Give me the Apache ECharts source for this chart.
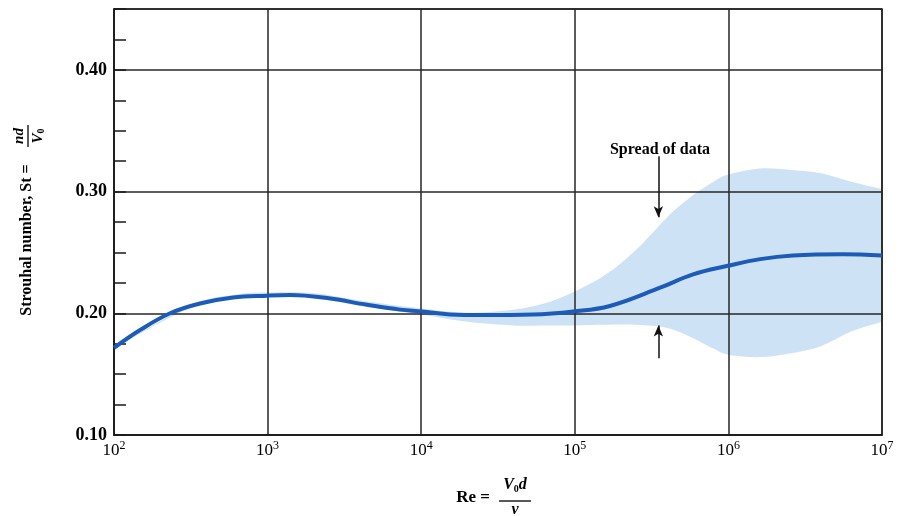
<!DOCTYPE html>
<html>
<head>
<meta charset="utf-8">
<style>
  html, body { margin: 0; padding: 0; background: #fff; }
  #chart { width: 901px; height: 516px; }
</style>
<script src="https://cdn.jsdelivr.net/npm/echarts@6/dist/echarts.min.js"></script>
</head>
<body>
<div id="chart"></div>
<script>
  // Strouhal number vs Reynolds number
  const reCurve = [100, 147, 232, 363, 596, 1000, 1400, 2440, 4440, 7280, 10100, 15400, 25100, 53300, 97700,
    169000, 359000, 589000, 993000, 1610000, 2630000, 5570000, 10000000];
  const stCurve = [0.1715, 0.186, 0.200, 0.208, 0.213, 0.2145, 0.215, 0.2125, 0.207, 0.203, 0.2015, 0.199, 0.1985,
    0.199, 0.2015, 0.206, 0.221, 0.232, 0.239, 0.2445, 0.2475, 0.2485, 0.2475];

  // spread of data (band)
  const reBand = [100, 320, 630, 1000, 2000, 4000, 10000, 20000, 40000, 63000, 100000, 160000, 250000, 400000,
    560000, 800000, 1000000, 1600000, 2500000, 4000000, 6300000, 10000000];
  const bandLow = [0.1715, 0.205, 0.2125, 0.2135, 0.2125, 0.206, 0.199, 0.193, 0.19, 0.19, 0.19, 0.1905, 0.1905,
    0.188, 0.181, 0.171, 0.166, 0.164, 0.167, 0.173, 0.185, 0.193];
  const bandHigh = [0.1715, 0.207, 0.2155, 0.217, 0.2165, 0.2105, 0.204, 0.2005, 0.203, 0.208, 0.218, 0.232, 0.252,
    0.279, 0.295, 0.308, 0.314, 0.319, 0.318, 0.315, 0.308, 0.302];

  // arrows for the "Spread of data" note
  const noteRe = 350000;
  const arrowTop = [0.329, 0.279];
  const arrowBottom = [0.163, 0.190];

  const serif = '"Liberation Serif", "Times New Roman", serif';
  const chart = echarts.init(document.getElementById('chart'));

  // Catmull-Rom through pixel points, as svg path segments
  function smoothPath(pts) {
    let d = '';
    for (let i = 0; i < pts.length - 1; i++) {
      const p0 = pts[Math.max(i - 1, 0)];
      const p1 = pts[i];
      const p2 = pts[i + 1];
      const p3 = pts[Math.min(i + 2, pts.length - 1)];
      const c1x = p1[0] + (p2[0] - p0[0]) / 6;
      const c1y = p1[1] + (p2[1] - p0[1]) / 6;
      const c2x = p2[0] - (p3[0] - p1[0]) / 6;
      const c2y = p2[1] - (p3[1] - p1[1]) / 6;
      d += ` C${c1x},${c1y} ${c2x},${c2y} ${p2[0]},${p2[1]}`;
    }
    return d;
  }

  function renderBand(params, api) {
    if (params.dataIndex !== 0) return null;
    const upper = reBand.map((re, i) => api.coord([re, bandHigh[i]]));
    const lower = reBand.map((re, i) => api.coord([re, bandLow[i]])).reverse();
    const d = `M${upper[0][0]},${upper[0][1]}` + smoothPath(upper) +
      ` L${lower[0][0]},${lower[0][1]}` + smoothPath(lower) + ' Z';
    return {
      type: 'path',
      shape: { pathData: d },
      style: { fill: '#cde2f5', stroke: null },
    };
  }

  const option = {
    animation: false,
    backgroundColor: '#fff',
    grid: {
      left: 114, right: 19, top: 9, bottom: 81,
      show: true, borderColor: '#1a1a1a', borderWidth: 1.5, backgroundColor: 'transparent',
    },
    xAxis: {
      type: 'log',
      logBase: 10,
      min: 100,
      max: 10000000,
      z: 3,
      axisLine: { show: true, lineStyle: { color: '#1a1a1a', width: 1.5 } },
      axisTick: { show: false },
      splitLine: { show: true, lineStyle: { color: '#262626', width: 1.5 } },
      minorTick: { show: false },
      axisLabel: {
        margin: 5,
        color: '#000',
        fontFamily: serif,
        formatter: (value) => `{b|10}{s|${Math.round(Math.log10(value))}}`,
        rich: {
          b: { fontFamily: serif, fontSize: 17, color: '#000' },
          s: { fontFamily: serif, fontSize: 12, color: '#000', verticalAlign: 'bottom', padding: [0, 0, 9, 0] },
        },
      },
    },
    yAxis: [
      {
        type: 'value',
        min: 0.1,
        max: 0.45,
        interval: 0.1,
        z: 3,
        axisLine: { show: true, lineStyle: { color: '#1a1a1a', width: 1.5 } },
        axisTick: { show: false },
        splitLine: { show: true, lineStyle: { color: '#262626', width: 1.5 } },
        axisLabel: {
          margin: 7,
          showMaxLabel: false,
          color: '#000',
          fontFamily: serif,
          fontWeight: 'bold',
          fontSize: 18,
          formatter: (v) => v.toFixed(2),
        },
      },
      {
        type: 'value',
        position: 'left',
        min: 0.1,
        max: 0.45,
        interval: 0.025,
        z: 3,
        axisLine: { show: false },
        axisTick: { show: true, inside: true, length: 12, lineStyle: { color: '#1a1a1a', width: 1.5 } },
        splitLine: { show: false },
        axisLabel: { show: false },
      },
    ],
    series: [
      {
        name: 'Spread of data',
        type: 'custom',
        z: -1,
        silent: true,
        renderItem: renderBand,
        encode: { x: 0, y: [1, 2] },
        data: reBand.map((re, i) => [re, bandLow[i], bandHigh[i]]),
      },
      {
        name: 'St',
        type: 'line',
        data: reCurve.map((re, i) => [re, stCurve[i]]),
        smooth: 0.4,
        symbol: 'none',
        z: 5,
        lineStyle: { color: '#1c5cb8', width: 4 },
        markLine: {
          silent: true,
          symbol: ['none', 'arrow'],
          symbolSize: [7, 11],
          label: { show: false },
          lineStyle: { color: '#111', width: 1.5, type: 'solid' },
          data: [
            [{ coord: [noteRe, arrowTop[0]] }, { coord: [noteRe, arrowTop[1]] }],
            [{ coord: [noteRe, arrowBottom[0]] }, { coord: [noteRe, arrowBottom[1]] }],
          ],
        },
      },
    ],
    graphic: [
      {
        type: 'text',
        x: 27, y: 240, rotation: Math.PI / 2, z: 100,
        style: {
          text: 'Strouhal number, St =',
          font: `bold 16px ${serif}`,
          fill: '#000',
          align: 'center',
          verticalAlign: 'middle',
        },
      },
      {
        type: 'text',
        x: 19, y: 136, rotation: Math.PI / 2, z: 100,
        style: {
          text: 'nd',
          font: `italic bold 15px ${serif}`,
          fill: '#000',
          align: 'center',
          verticalAlign: 'middle',
        },
      },
      {
        type: 'line', z: 100,
        shape: { x1: 28, y1: 125, x2: 28, y2: 147 },
        style: { stroke: '#000', lineWidth: 1.3 },
      },
      {
        type: 'text',
        x: 38, y: 136, rotation: Math.PI / 2, z: 100,
        style: {
          text: '{v|V}{s|0}',
          align: 'center',
          verticalAlign: 'middle',
          rich: {
            v: { font: `italic bold 15px ${serif}`, fill: '#000' },
            s: { font: `bold 10px ${serif}`, fill: '#000', verticalAlign: 'top', padding: [6, 0, 0, 0] },
          },
        },
      },
      {
        type: 'text',
        x: 490, y: 498, z: 100,
        style: {
          text: 'Re =',
          font: `bold 17px ${serif}`,
          fill: '#000',
          align: 'right',
          verticalAlign: 'middle',
        },
      },
      {
        type: 'text',
        x: 515, y: 485, z: 100,
        style: {
          text: '{v|V}{s|0}{v|d}',
          align: 'center',
          verticalAlign: 'middle',
          rich: {
            v: { font: `italic bold 16px ${serif}`, fill: '#000' },
            s: { font: `bold 10px ${serif}`, fill: '#000', verticalAlign: 'top', padding: [8, 0, 0, 0] },
          },
        },
      },
      {
        type: 'line', z: 100,
        shape: { x1: 499, y1: 501, x2: 531, y2: 501 },
        style: { stroke: '#000', lineWidth: 1.3 },
      },
      {
        type: 'text',
        x: 515, y: 510, z: 100,
        style: {
          text: 'ν',
          font: `italic bold 16px ${serif}`,
          fill: '#000',
          align: 'center',
          verticalAlign: 'middle',
        },
      },
      {
        type: 'text',
        x: 660, y: 150, z: 100,
        style: {
          text: 'Spread of data',
          font: `bold 16px ${serif}`,
          fill: '#000',
          align: 'center',
          verticalAlign: 'middle',
        },
      },
    ],
  };

  chart.setOption(option);
</script>
</body>
</html>
